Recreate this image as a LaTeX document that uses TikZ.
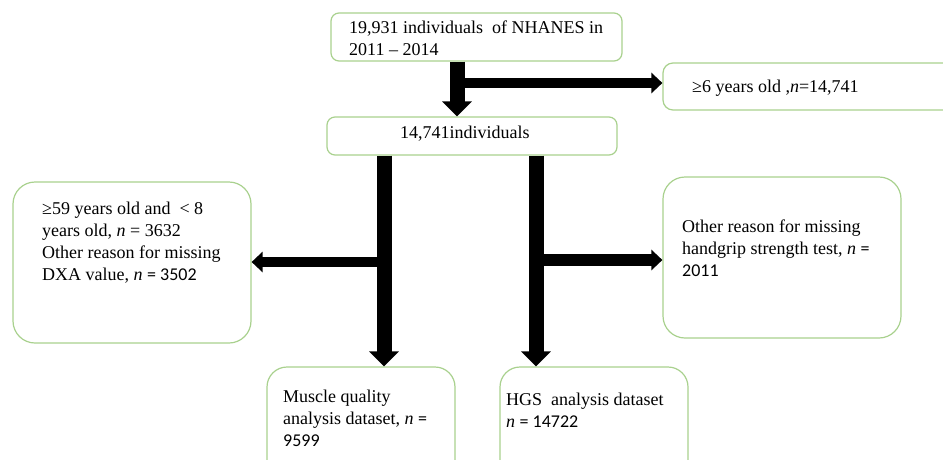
\documentclass[tikz,border=0pt]{standalone}
\usepackage{fontspec}
\setmainfont{Liberation Serif}
\newfontfamily\calfont{Carlito}
\usetikzlibrary{arrows.meta}
\definecolor{boxgreen}{HTML}{A9D18E}
\begin{document}
\begin{tikzpicture}[x=1pt,y=-1pt,
  box/.style={draw=boxgreen, line width=1.2pt, fill=white, inner sep=0pt},
  txt/.style={anchor=base west, inner sep=0pt, align=left, font=\fontsize{18}{22}\selectfont},
  bigarrow/.style={line width=15pt, -{Triangle[width=29pt,length=15pt]}},
  sidearrow/.style={line width=11pt, -{Triangle[width=20pt,length=11pt]}}]
\clip (0,0) rectangle (943,459);
\fill[white] (0,0) rectangle (943,459);
% boxes
\node[box, rounded corners=8pt, minimum width=291pt, minimum height=48pt] (top) at (476.5,37) {};
\node[box, rounded corners=10pt, minimum width=300pt, minimum height=47pt] (rs) at (813,86.5) {};
\node[box, rounded corners=8pt, minimum width=290pt, minimum height=38pt] (mid) at (472,136) {};
\node[box, rounded corners=22pt, minimum width=238pt, minimum height=161pt] (left) at (132,262.5) {};
\node[box, rounded corners=22pt, minimum width=238pt, minimum height=161pt] (right) at (782,257.5) {};
\node[box, rounded corners=20pt, minimum width=188pt, minimum height=120pt] (bl) at (361,427) {};
\node[box, rounded corners=20pt, minimum width=188pt, minimum height=120pt] (br) at (594,427) {};
% texts (anchor = baseline of last line)
\node[txt] (ttop) at (349,55) {19,931 individuals \ of NHANES in\\2011 -- 2014};
\node[txt] (trs) at (692,92) {≥6 years old ,\textit{n}=14,741};
\node[txt] (tmid) at (400,138) {14,741individuals};
\node[txt] (tleft) at (42,280) {≥59 years old and \ < 8\\years old, \textit{n} = 3632\\Other reason for missing\\DXA value, \textit{n} {\calfont = 3502}};
\node[txt] (tright) at (682,276) {Other reason for missing\\handgrip strength test, \textit{n} {\calfont =}\\{\calfont 2011}};
\node[txt] (tbl) at (283,446) {Muscle quality\\analysis dataset, \textit{n} {\calfont =}\\{\calfont 9599}};
\node[txt] (tbr) at (506,427) {HGS \ analysis dataset\\\textit{n} {\calfont = 14722}};
% connectors
\coordinate (j1) at (457,83);
\coordinate (j2) at (384,262);
\coordinate (j3) at (536,260);
\draw[bigarrow] (top.south -| j1) -- (mid.north -| j1);
\draw[sidearrow, line width=10pt] (j1) -- (j1 -| rs.west);
\draw[bigarrow] (mid.south -| j2) -- (bl.north -| j2);
\draw[sidearrow, line width=10pt] (j2) -- (j2 -| left.east);
\draw[bigarrow] (mid.south -| j3) -- (br.north -| j3);
\draw[sidearrow, line width=12pt] (j3) -- (j3 -| right.west);
\end{tikzpicture}
\end{document}
